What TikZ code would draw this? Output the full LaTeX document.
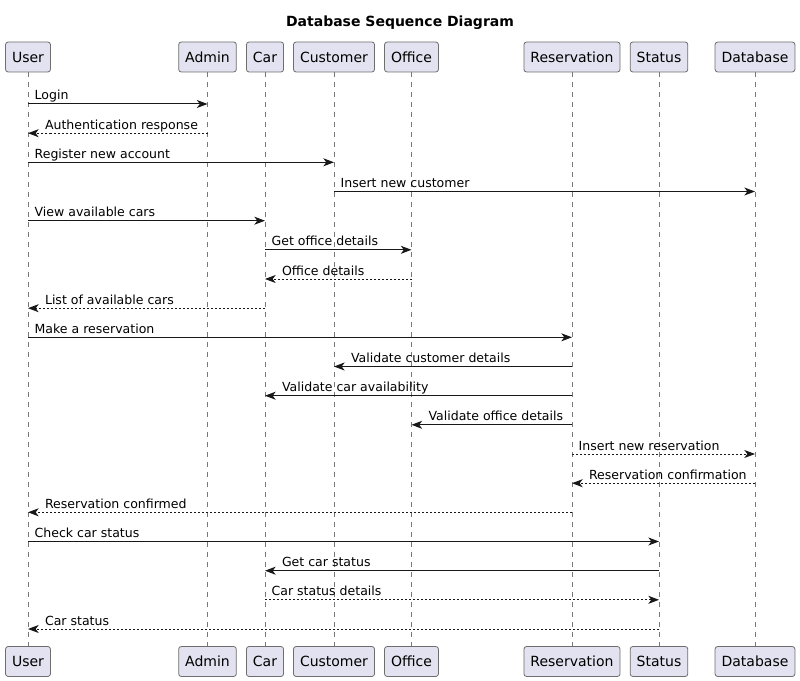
\documentclass[tikz,border=0pt]{standalone}
\usepackage{fontspec}
\setmainfont{DejaVu Sans}
\usetikzlibrary{arrows.meta}

\definecolor{partfill}{RGB}{226,226,240}
\definecolor{partline}{RGB}{24,24,24}
\definecolor{boxline}{RGB}{110,110,110}
\definecolor{lifegray}{RGB}{120,120,120}

\tikzset{
  part/.style={draw=boxline, fill=partfill, line width=0.6pt, rounded corners=2pt,
    inner xsep=4.9pt, inner ysep=0pt, minimum height=22.5pt,
    font=\fontsize{10.5}{12}\selectfont},
  life/.style={draw=lifegray, line width=0.6pt, dash pattern=on 3.75pt off 3.75pt},
  msg/.style={draw=partline, line width=0.75pt,
    -{Stealth[length=8pt, width=6pt, inset=2.25pt]}},
  reply/.style={msg, dash pattern=on 1.5pt off 1.5pt},
  lblR/.style={pos=0, anchor=base west, inner sep=0pt, xshift=4.6pt, yshift=3pt,
    font=\fontsize{9.4}{11}\selectfont},
  lblL/.style={pos=1, anchor=base west, inner sep=0pt, xshift=12.4pt, yshift=3pt,
    font=\fontsize{9.4}{11}\selectfont}
}

\begin{document}
\begin{tikzpicture}[x=0.75pt,y=0.75pt,yscale=-1,xscale=1]
\path[use as bounding box] (0,0) rectangle (800,681);

% Title
\draw (400,22.5) node [font=\fontsize{10.5}{12}\selectfont\bfseries] (title) {Database Sequence Diagram};

% Participants, top
\node [part] (user) at (28,57) {User};
\node [part] (admin) at (207.5,57) {Admin};
\node [part] (car) at (265,57) {Car};
\node [part] (customer) at (334,57) {Customer};
\node [part] (office) at (411.5,57) {Office};
\node [part] (reservation) at (572,57) {Reservation};
\node [part] (status) at (659,57) {Status};
\node [part] (database) at (755,57) {Database};

% Participants, bottom
\node [part] (user2) at (28,661.5) {User};
\node [part] (admin2) at (207.5,661.5) {Admin};
\node [part] (car2) at (265,661.5) {Car};
\node [part] (customer2) at (334,661.5) {Customer};
\node [part] (office2) at (411.5,661.5) {Office};
\node [part] (reservation2) at (572,661.5) {Reservation};
\node [part] (status2) at (659,661.5) {Status};
\node [part] (database2) at (755,661.5) {Database};

% Lifelines
\draw [life] (user.south) -- (user2.north);
\draw [life] (admin.south) -- (admin2.north);
\draw [life] (car.south) -- (car2.north);
\draw [life] (customer.south) -- (customer2.north);
\draw [life] (office.south) -- (office2.north);
\draw [life] (reservation.south) -- (reservation2.north);
\draw [life] (status.south) -- (status2.north);
\draw [life] (database.south) -- (database2.north);

%Messages
\draw [msg] (user |- 0,104) -- (admin |- 0,104) node [lblR] {Login};
\draw [reply] (admin |- 0,133.2) -- (user |- 0,133.2) node [lblL] {Authentication response};
\draw [msg] (user |- 0,162.3) -- (customer |- 0,162.3) node [lblR] {Register new account};
\draw [msg] (customer |- 0,191.5) -- (database |- 0,191.5) node [lblR] {Insert new customer};
\draw [msg] (user |- 0,220.7) -- (car |- 0,220.7) node [lblR] {View available cars};
\draw [msg] (car |- 0,249.8) -- (office |- 0,249.8) node [lblR] {Get office details};
\draw [reply] (office |- 0,279) -- (car |- 0,279) node [lblL] {Office details};
\draw [reply] (car |- 0,308.2) -- (user |- 0,308.2) node [lblL] {List of available cars};
\draw [msg] (user |- 0,337.3) -- (reservation |- 0,337.3) node [lblR] {Make a reservation};
\draw [msg] (reservation |- 0,366.5) -- (customer |- 0,366.5) node [lblL] {Validate customer details};
\draw [msg] (reservation |- 0,395.7) -- (car |- 0,395.7) node [lblL] {Validate car availability};
\draw [msg] (reservation |- 0,424.8) -- (office |- 0,424.8) node [lblL] {Validate office details};
\draw [reply] (reservation |- 0,454) -- (database |- 0,454) node [lblR] {Insert new reservation};
\draw [reply] (database |- 0,483.2) -- (reservation |- 0,483.2) node [lblL] {Reservation confirmation};
\draw [reply] (reservation |- 0,512.3) -- (user |- 0,512.3) node [lblL] {Reservation confirmed};
\draw [msg] (user |- 0,541.5) -- (status |- 0,541.5) node [lblR] {Check car status};
\draw [msg] (status |- 0,570.7) -- (car |- 0,570.7) node [lblL] {Get car status};
\draw [reply] (car |- 0,599.8) -- (status |- 0,599.8) node [lblR] {Car status details};
\draw [reply] (status |- 0,629) -- (user |- 0,629) node [lblL] {Car status};

\end{tikzpicture}
\end{document}
